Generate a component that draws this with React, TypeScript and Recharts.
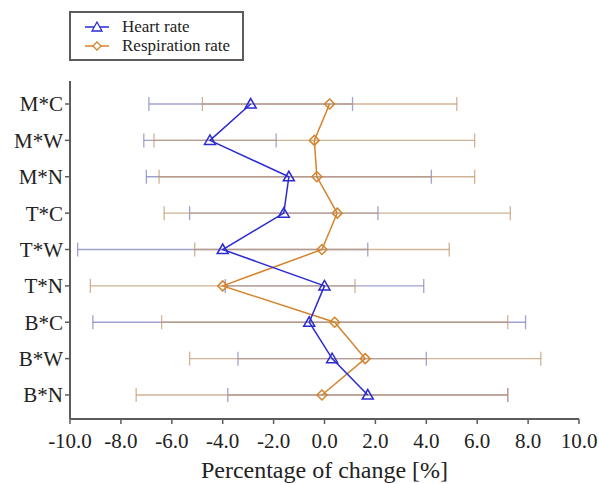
import React from 'react';
import { ComposedChart, Line, XAxis, YAxis, ErrorBar, Legend } from 'recharts';

const categories = ['M*C', 'M*W', 'M*N', 'T*C', 'T*W', 'T*N', 'B*C', 'B*W', 'B*N'];
const heartRate = [-2.9, -4.5, -1.4, -1.6, -4.0, 0.0, -0.6, 0.3, 1.7];
const heartErr = [4.0, 2.6, 5.6, 3.7, 5.7, 3.9, 8.5, 3.7, 5.5];
const respRate = [0.2, -0.4, -0.3, 0.5, -0.1, -4.0, 0.4, 1.6, -0.1];
const respErr = [5.0, 6.3, 6.2, 6.8, 5.0, 5.2, 6.8, 6.9, 7.3];
const xTicks = [-10, -8, -6, -4, -2, 0, 2, 4, 6, 8, 10];
const xTitle = 'Percentage of change [%]';

const BLUE = '#2b2bd2';
const ORANGE = '#d4842c';
const AXIS = '#5c5c5c';
const FONT = '"Liberation Serif", "DejaVu Serif", serif';

const data = categories.map((name, i) => ({
  name,
  hr: heartRate[i],
  hrErr: heartErr[i],
  rr: respRate[i],
  rrErr: respErr[i],
}));

const triangle = (props: any) => {
  const { cx, cy, index } = props;
  if (cx == null || cy == null) return <g key={`t-${index}`} />;
  const pts = `${cx},${cy - 5.5} ${cx - 5.5},${cy + 4} ${cx + 5.5},${cy + 4}`;
  return <polygon key={`t-${index}`} points={pts} fill="none" stroke={BLUE} strokeWidth={1.5} />;
};

const diamond = (props: any) => {
  const { cx, cy, index } = props;
  if (cx == null || cy == null) return <g key={`d-${index}`} />;
  const pts = `${cx},${cy - 5} ${cx + 5},${cy} ${cx},${cy + 5} ${cx - 5},${cy}`;
  return <polygon key={`d-${index}`} points={pts} fill="none" stroke={ORANGE} strokeWidth={1.5} />;
};

// axis title drawn from the axis viewBox
const renderTitle = (props: any) => {
  const vb = props.viewBox || {};
  const cx = (vb.x ?? 70) + (vb.width ?? 509) / 2;
  const y = (vb.y ?? 419) + (vb.height ?? 65) - 6;
  return (
    <text x={cx} y={y} textAnchor="middle" fill="#222" fontSize={24} fontFamily={FONT}>
      {xTitle}
    </text>
  );
};

const renderLegend = () => (
  <div
    style={{
      position: 'relative',
      width: 175,
      height: 50,
      boxSizing: 'border-box',
      border: `2px solid ${AXIS}`,
      background: '#fff',
      fontFamily: FONT,
      fontSize: 17,
      color: '#222',
    }}
  >
    {[
      { label: 'Heart rate', color: BLUE, shape: 'tri', top: 4 },
      { label: 'Respiration rate', color: ORANGE, shape: 'dia', top: 23 },
    ].map((row) => (
      <div key={row.label} style={{ position: 'absolute', left: 0, top: row.top, height: 20, display: 'flex', alignItems: 'center' }}>
        <svg width={26} height={14} style={{ marginLeft: 14 }}>
          <line x1={0} y1={7} x2={24} y2={7} stroke={row.color} strokeWidth={1.5} />
          {row.shape === 'tri' ? (
            <polygon points="12,2 7,11 17,11" fill="#fff" stroke={row.color} strokeWidth={1.3} />
          ) : (
            <polygon points="12,3 16,7 12,11 8,7" fill="#fff" stroke={row.color} strokeWidth={1.3} />
          )}
        </svg>
        <span style={{ marginLeft: 11, lineHeight: '20px' }}>{row.label}</span>
      </div>
    ))}
  </div>
);

export default function App() {
  return (
    <div style={{ position: 'absolute', left: 0, top: 0, background: '#fff' }}>
      <ComposedChart
        width={599}
        height={484}
        data={data}
        layout="vertical"
        margin={{ top: 81, right: 20, bottom: 0, left: 0 }}
      >
        <XAxis
          type="number"
          domain={[-10, 10]}
          ticks={xTicks}
          tickFormatter={(v: number) => v.toFixed(1)}
          allowDataOverflow
          height={65}
          stroke={AXIS}
          axisLine={{ stroke: AXIS, strokeWidth: 2 }}
          tickLine={{ stroke: AXIS, strokeWidth: 1.5 }}
          tickSize={5}
          tickMargin={9}
          tick={{ fill: '#222', fontSize: 21, fontFamily: FONT }}
          label={renderTitle}
        />
        <XAxis
          xAxisId="top"
          orientation="top"
          type="number"
          domain={[-10, 10]}
          height={0}
          tick={false}
          tickLine={false}
          axisLine={{ stroke: '#d0d0d0', strokeWidth: 1.5 }}
        />
        <YAxis
          type="category"
          dataKey="name"
          scale="point"
          padding={{ top: 23, bottom: 24 }}
          width={70}
          axisLine={{ stroke: AXIS, strokeWidth: 2 }}
          tickLine={{ stroke: AXIS, strokeWidth: 1.5 }}
          tickSize={5}
          tick={{ fill: '#222', fontSize: 21, fontFamily: FONT }}
        />
        <YAxis
          yAxisId="right"
          orientation="right"
          type="category"
          dataKey="name"
          scale="point"
          width={0}
          tick={false}
          tickLine={false}
          axisLine={{ stroke: '#333', strokeWidth: 2 }}
        />
        <Legend
          content={renderLegend}
          layout="vertical"
          align="center"
          verticalAlign="middle"
          wrapperStyle={{ position: 'absolute', left: 69, top: 11, width: 175, height: 50 }}
        />
        <Line dataKey="hr" stroke="none" dot={false} legendType="none" isAnimationActive={false}>
          <ErrorBar dataKey="hrErr" direction="x" width={7} stroke="#8a8ac4" strokeWidth={1.3} strokeOpacity={0.8} />
        </Line>
        <Line dataKey="rr" stroke="none" dot={false} legendType="none" isAnimationActive={false}>
          <ErrorBar dataKey="rrErr" direction="x" width={7} stroke="#c09a70" strokeWidth={1.3} strokeOpacity={0.75} />
        </Line>
        <Line
          dataKey="rr"
          name="Respiration rate"
          stroke={ORANGE}
          strokeWidth={1.5}
          dot={diamond}
          activeDot={false}
          isAnimationActive={false}
        />
        <Line
          dataKey="hr"
          name="Heart rate"
          stroke={BLUE}
          strokeWidth={1.5}
          dot={triangle}
          activeDot={false}
          isAnimationActive={false}
        />
      </ComposedChart>
    </div>
  );
}
